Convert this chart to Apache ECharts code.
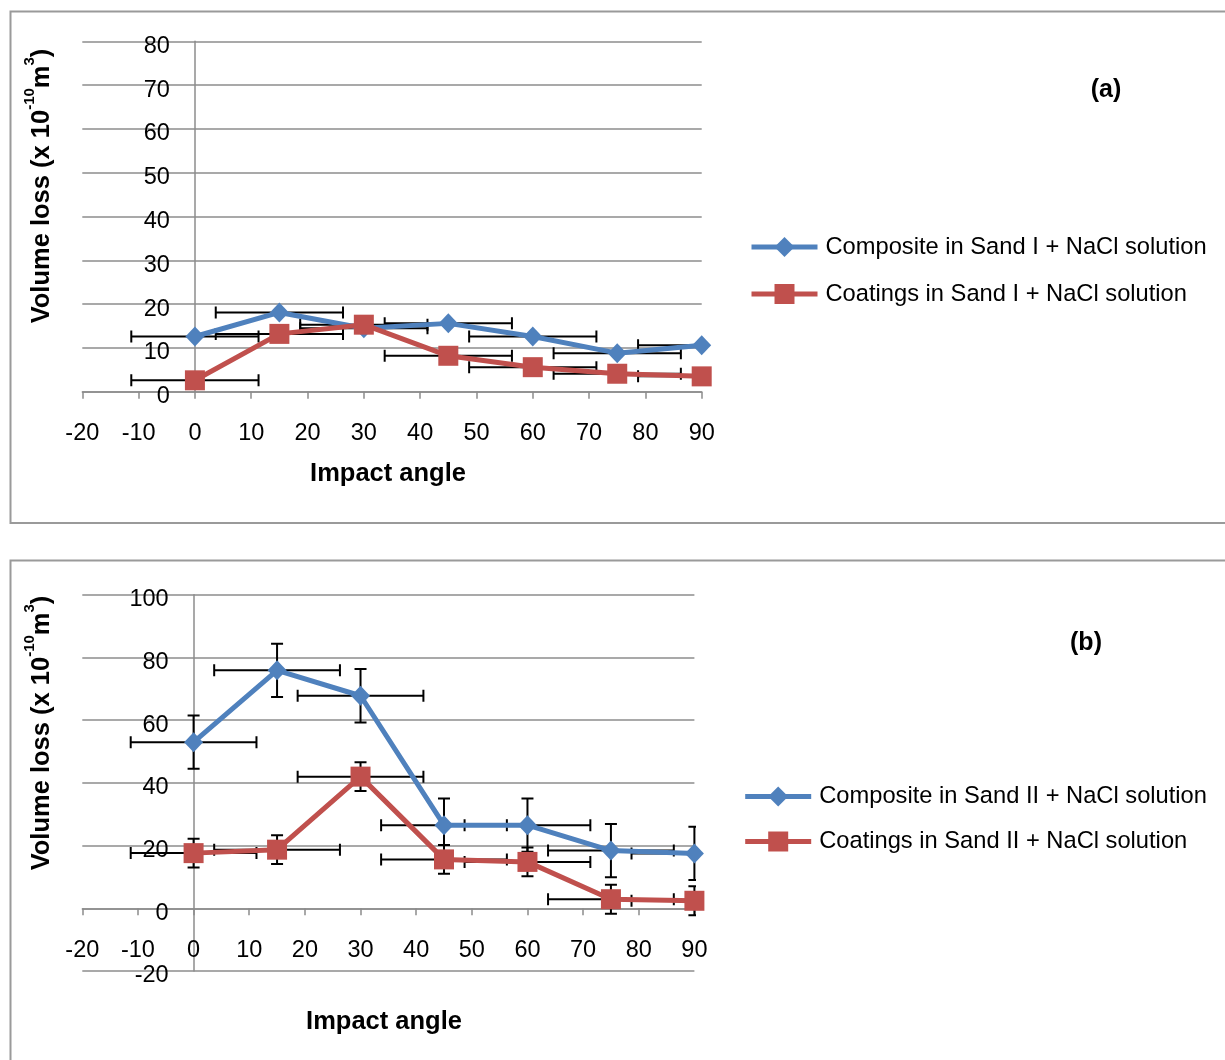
<!DOCTYPE html>
<html><head><meta charset="utf-8">
<script src="https://cdn.jsdelivr.net/npm/echarts@6/dist/echarts.min.js"></script>
<style>html,body{margin:0;padding:0;background:#fff}#c{width:1225px;height:1060px}</style>
</head><body><div id="c"></div>
<script>
// ---- data ----
const angles = [0, 15, 30, 45, 60, 75, 90];
const xTicks = [-20, -10, 0, 10, 20, 30, 40, 50, 60, 70, 80, 90];
const namesA = ['Composite in Sand I + NaCl solution', 'Coatings in Sand I + NaCl solution'];
const namesB = ['Composite in Sand II + NaCl solution', 'Coatings in Sand II + NaCl solution'];
const compositeA = [12.6, 18.1, 14.5, 15.6, 12.6, 8.8, 10.6];
const coatingsA = [2.6, 13.2, 15.3, 8.2, 5.6, 4.1, 3.5];
const compositeB = [53.0, 75.9, 67.8, 26.5, 26.5, 18.4, 17.5];
const coatingsB = [17.6, 18.7, 42.0, 15.6, 14.8, 2.9, 2.4];
const angleErr = [11.3, 11.3, 11.3, 11.3, 11.3, 11.3, 11.3];
const compositeAErr = [0, 0, 0, 0, 0, 0, 0];
const coatingsAErr = [0, 0, 0, 0, 0, 0, 0];
const compositeBErr = [8.5, 8.5, 8.5, 8.5, 8.5, 8.5, 8.5];
const coatingsBErr = [4.6, 4.6, 4.6, 4.6, 4.6, 4.6, 4.6];
const yTitle = '{b|Volume loss (x 10}{s|-10}{b|m}{s|3}{b|)}';
const xTitle = 'Impact angle';

// ---- styling ----
const FONT = '"Liberation Sans", Arial, sans-serif';
const GRAY = '#8c8c8c';
const BLUE = '#4F81BD';
const RED = '#C0504D';

const gridA = {left: 82.3, top: 41.3, width: 619.4, height: 350.4};
const gridB = {left: 82.3, top: 594.8, width: 612.1, height: 376.2};

const chart = echarts.init(document.getElementById('c'), null, {renderer: 'canvas'});

// offset that places an axis on the other axis' zero
function zeroOffset(min, max, len) { return -((0 - min) / (max - min)) * len; }

function xAxisFor(gi, offset) {
  return {
    type: 'value', gridIndex: gi, position: 'bottom', offset: offset,
    min: xTicks[0], max: xTicks[xTicks.length - 1], interval: 10,
    axisLine: {show: true, onZero: false, lineStyle: {color: GRAY, width: 1.5}},
    axisTick: {show: true, length: 7, lineStyle: {color: GRAY, width: 1.5}},
    axisLabel: {margin: 30, fontFamily: FONT, fontSize: 23.5, color: '#000'},
    splitLine: {show: false}
  };
}
function yAxisFor(gi, min, max, step, offset) {
  return {
    type: 'value', gridIndex: gi, position: 'left', offset: offset,
    min: min, max: max, interval: step,
    axisLine: {show: true, onZero: false, lineStyle: {color: GRAY, width: 1.5}},
    axisTick: {show: false},
    axisLabel: {margin: 25, fontFamily: FONT, fontSize: 23.5, color: '#000',
                verticalAlign: 'top', lineHeight: 10},
    splitLine: {show: true, lineStyle: {color: GRAY, width: 1.5}}
  };
}
function lineSeries(gi, name, vals, color, symbol, size, z) {
  return {
    type: 'line', name: name, xAxisIndex: gi, yAxisIndex: gi,
    data: angles.map((a, i) => [a, vals[i]]),
    symbol: symbol, symbolSize: size, showAllSymbol: true,
    lineStyle: {width: 5, color: color},
    itemStyle: {color: color},
    z: z, animation: false
  };
}
function errSeries(gi, vals, xe, ye) {
  return {
    type: 'custom', xAxisIndex: gi, yAxisIndex: gi, clip: true, z: 2, silent: true, animation: false,
    data: angles.map((a, i) => [a, vals[i], xe[i], ye[i]]),
    renderItem: function (params, api) {
      const x = api.value(0), y = api.value(1), ex = api.value(2), ey = api.value(3);
      const cap = 6;
      const st = {stroke: '#000', lineWidth: 2, fill: null};
      const ch = [];
      if (ex > 0) {
        const l = api.coord([x - ex, y]), r = api.coord([x + ex, y]);
        ch.push({type: 'line', shape: {x1: l[0], y1: l[1], x2: r[0], y2: r[1]}, style: st});
        ch.push({type: 'line', shape: {x1: l[0], y1: l[1] - cap, x2: l[0], y2: l[1] + cap}, style: st});
        ch.push({type: 'line', shape: {x1: r[0], y1: r[1] - cap, x2: r[0], y2: r[1] + cap}, style: st});
      }
      if (ey > 0) {
        const t = api.coord([x, y + ey]), b = api.coord([x, y - ey]);
        ch.push({type: 'line', shape: {x1: t[0], y1: t[1], x2: b[0], y2: b[1]}, style: st});
        ch.push({type: 'line', shape: {x1: t[0] - cap, y1: t[1], x2: t[0] + cap, y2: t[1]}, style: st});
        ch.push({type: 'line', shape: {x1: b[0] - cap, y1: b[1], x2: b[0] + cap, y2: b[1]}, style: st});
      }
      return {type: 'group', children: ch};
    }
  };
}
function vTitle(x, y) {
  return {
    type: 'text', x: x, y: y, rotation: Math.PI / 2, z: 10,
    style: {
      text: yTitle, align: 'center', verticalAlign: 'middle', fill: '#000',
      rich: {
        b: {fontFamily: FONT, fontWeight: 'bold', fontSize: 25.5, lineHeight: 40, verticalAlign: 'middle', fill: '#000'},
        s: {fontFamily: FONT, fontWeight: 'bold', fontSize: 15, lineHeight: 14, verticalAlign: 'top', fill: '#000'}
      }
    }
  };
}
function plainText(x, y, txt, size) {
  return {
    type: 'text', x: x, y: y, z: 10,
    style: {text: txt, align: 'center', verticalAlign: 'middle', fill: '#000',
            font: 'bold ' + size + 'px ' + FONT}
  };
}
function legendFor(left, top, gap, names) {
  return {
    orient: 'vertical', left: left, top: top, padding: 0, itemGap: gap,
    itemWidth: 66, itemHeight: 25, selectedMode: false, data: names,
    textStyle: {fontFamily: FONT, fontSize: 23.7, color: '#000', padding: [0, 0, 0, 3]},
    lineStyle: {width: 5}
  };
}

const option = {
  animation: false,
  backgroundColor: '#fff',
  grid: [
    Object.assign({outerBoundsMode: 'none', containLabel: false}, gridA),
    Object.assign({outerBoundsMode: 'none', containLabel: false}, gridB)
  ],
  xAxis: [
    xAxisFor(0, 0),
    xAxisFor(1, zeroOffset(-20, 100, gridB.height))
  ],
  yAxis: [
    yAxisFor(0, 0, 80, 10, zeroOffset(xTicks[0], xTicks[xTicks.length - 1], gridA.width)),
    yAxisFor(1, -20, 100, 20, zeroOffset(xTicks[0], xTicks[xTicks.length - 1], gridB.width))
  ],
  legend: [
    legendFor(749, 235, 23, namesA),
    legendFor(742.7, 784.5, 21, namesB)
  ],
  series: [
    errSeries(0, compositeA, angleErr, compositeAErr),
    errSeries(0, coatingsA, angleErr, coatingsAErr),
    lineSeries(0, namesA[0], compositeA, BLUE, 'diamond', [19, 20], 3),
    lineSeries(0, namesA[1], coatingsA, RED, 'rect', 20, 4),
    errSeries(1, compositeB, angleErr, compositeBErr),
    errSeries(1, coatingsB, angleErr, coatingsBErr),
    lineSeries(1, namesB[0], compositeB, BLUE, 'diamond', [19, 20], 3),
    lineSeries(1, namesB[1], coatingsB, RED, 'rect', 20, 4)
  ],
  graphic: [
    {type: 'rect', z: -5, shape: {x: 10.5, y: 11.5, width: 1240, height: 511.5},
     style: {fill: 'none', stroke: '#9a9a9a', lineWidth: 2}},
    {type: 'rect', z: -5, shape: {x: 10.5, y: 560.5, width: 1240, height: 600},
     style: {fill: 'none', stroke: '#9a9a9a', lineWidth: 2}},
    vTitle(42, 186),
    vTitle(42, 733),
    plainText(388, 474, xTitle, 25.5),
    plainText(384, 1022, xTitle, 25.5),
    plainText(1106, 90, '(a)', 25),
    plainText(1086, 643, '(b)', 25)
  ]
};
chart.setOption(option);
</script></body></html>
